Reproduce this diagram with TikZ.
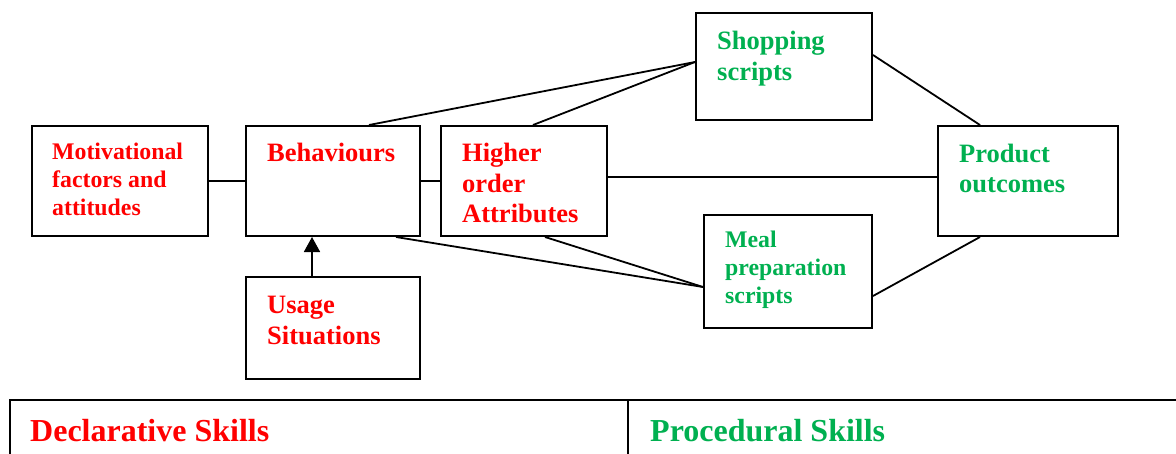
\documentclass[tikz,border=0pt]{standalone}
\usepackage{fontspec}
\setmainfont{Liberation Serif}
\usetikzlibrary{arrows.meta}
\definecolor{declred}{RGB}{255,0,0}
\definecolor{procgreen}{RGB}{0,176,80}

\begin{document}
\begin{tikzpicture}[x=1pt,y=-1pt,>={Triangle[width=16pt,length=15pt]},
  box/.style={draw,line width=2pt,inner sep=0pt},
  link/.style={line width=1.8pt},
  big/.style={font=\bfseries\fontsize{26.5}{30.5}\selectfont,align=left,inner sep=0pt,anchor=base west},
  small/.style={font=\bfseries\fontsize{23.8}{27.8}\selectfont,align=left,inner sep=0pt,anchor=base west},
  head/.style={font=\bfseries\fontsize{32}{36}\selectfont,inner sep=0pt,anchor=base west}]
  \useasboundingbox (0,0) rectangle (1176,453);

  % boxes
  \node[box,minimum width=176pt,minimum height=110pt] (mot) at (120,181) {};
  \node[box,minimum width=174pt,minimum height=110pt] (beh) at (333,181) {};
  \node[box,minimum width=166pt,minimum height=110pt] (high) at (524,181) {};
  \node[box,minimum width=176pt,minimum height=107pt] (shop) at (784,66.5) {};
  \node[box,minimum width=180pt,minimum height=110pt] (prod) at (1028,181) {};
  \node[box,minimum width=168pt,minimum height=113pt] (meal) at (788,271.5) {};
  \node[box,minimum width=174pt,minimum height=102pt] (usage) at (333,328) {};

  % texts (placed at the baseline of their last line)
  \node[small,text=declred] (motT) at (52,215) {Motivational\\factors and\\attitudes};
  \node[big,text=declred] (behT) at (267,161.7) {Behaviours};
  \node[big,text=declred] (highT) at (462,222.7) {Higher\\order\\Attributes};
  \node[big,text=procgreen] (shopT) at (717,80) {Shopping\\scripts};
  \node[big,text=procgreen] (prodT) at (959,192.5) {Product\\outcomes};
  \node[small,text=procgreen] (mealT) at (725,303.3) {Meal\\preparation\\scripts};
  \node[big,text=declred] (usageT) at (267,344) {Usage\\Situations};

  % links
  \draw[link] (mot.east) -- (beh.west);
  \draw[link] (beh.east) -- (high.west);
  \draw[link] ([xshift=-52pt]beh.north east) -- ([yshift=4.5pt]shop.west);
  \draw[link] ([xshift=9pt]high.north) -- ([yshift=4.5pt]shop.west);
  \draw[link] ([yshift=4pt]high.east) -- ([yshift=4pt]prod.west);
  \draw[link] ([yshift=11.5pt]shop.east) -- ([xshift=-48pt]prod.north);
  \draw[link] ([xshift=-25pt]beh.south east) -- ([yshift=-15.5pt]meal.west);
  \draw[link] ([xshift=21pt]high.south) -- ([yshift=-15.5pt]meal.west);
  \draw[link] ([yshift=-24.5pt]meal.east) -- ([xshift=-48pt]prod.south);
  \draw[link,->] ([xshift=-21pt]usage.north) -- ([xshift=-21pt]beh.south);

  % skills table
  \draw[line width=1.5pt] (10,460) -- (10,400) -- (1180,400);
  \draw[line width=1.5pt] (628,400) -- (628,460);
  \node[head,text=declred] (declT) at (30,441) {Declarative Skills};
  \node[head,text=procgreen] (procT) at (650,441) {Procedural Skills};
\end{tikzpicture}
\end{document}
